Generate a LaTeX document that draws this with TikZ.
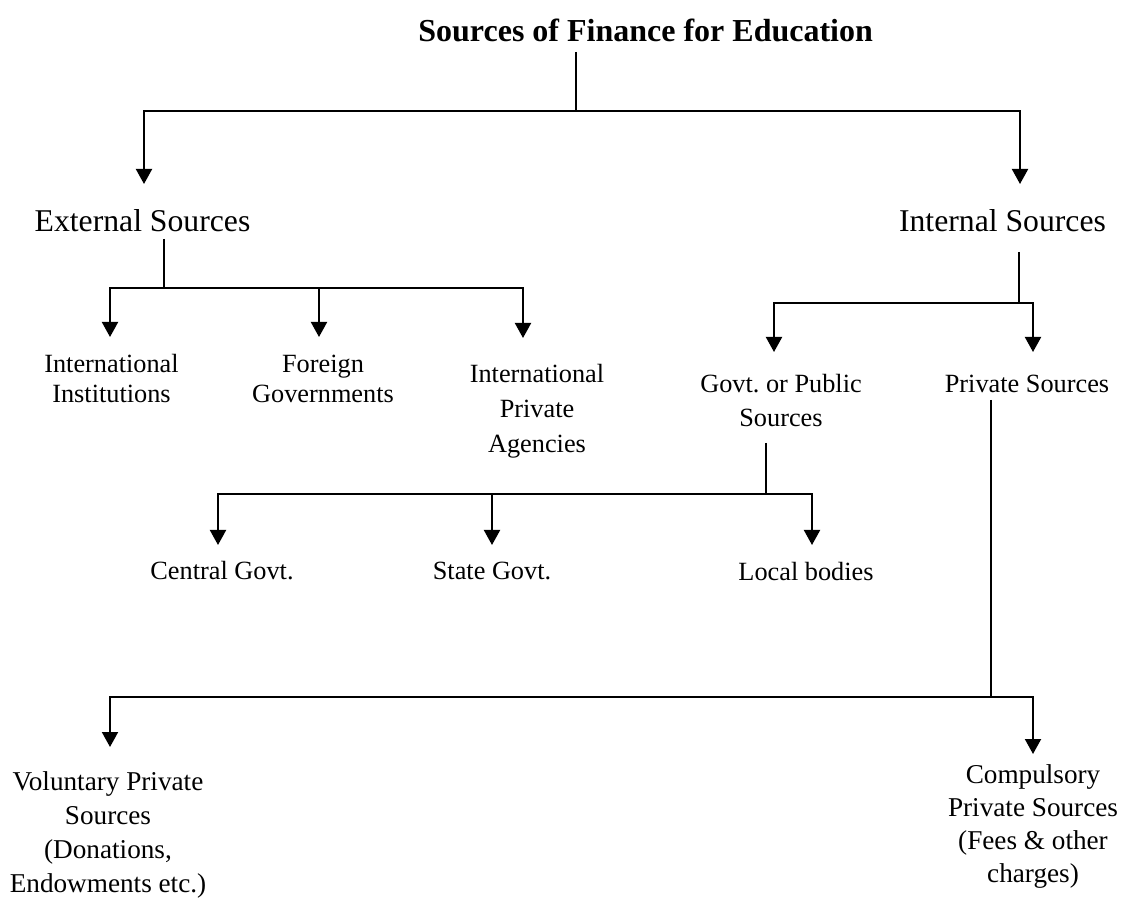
\documentclass[tikz,border=0pt]{standalone}
\usepackage{fontspec}
\setmainfont{Liberation Serif}
\usetikzlibrary{arrows.meta}
\frenchspacing
\begin{document}
\begin{tikzpicture}[x=0.5pt,y=-0.5pt,
  conn/.style={line width=1pt},
  arr/.style={line width=1pt,-{Triangle[width=8pt,length=7.5pt]}},
  titletext/.style={font=\bfseries\fontsize{16}{19}\selectfont,inner sep=0pt},
  bigtext/.style={font=\fontsize{15.85}{18}\selectfont,inner sep=0pt},
  smalltext/.style={font=\fontsize{13.15}{15}\selectfont,align=center,inner sep=0pt},
  bottomtext/.style={font=\fontsize{13.6}{16.75}\selectfont,align=center,inner sep=0pt}]
\useasboundingbox (0,0) rectangle (1125,898);

% nodes (anchor=base is the baseline of the last line)
\node[titletext,anchor=base west] (title) at (418,42) {Sources of Finance for Education};
\node[bigtext,anchor=base] (ext) at (142.5,232) {External Sources};
\node[bigtext,anchor=base] (int) at (1002.5,232) {Internal Sources};
\node[smalltext,anchor=base] (inst) at (111.5,403) {International\\Institutions};
\node[smalltext,anchor=base] (forg) at (323,403) {Foreign\\Governments};
\node[smalltext,anchor=base,font=\fontsize{13.15}{17.5}\selectfont] (ipa) at (537,453) {International\\Private\\Agencies};
\node[smalltext,anchor=base,font=\fontsize{13.15}{17}\selectfont] (govt) at (781,427) {Govt. or Public\\Sources};
\node[smalltext,anchor=base] (priv) at (1027,393) {Private Sources};
\node[smalltext,anchor=base] (central) at (222,580) {Central Govt.};
\node[smalltext,anchor=base] (state) at (492,580) {State Govt.};
\node[smalltext,anchor=base] (local) at (806,581) {Local bodies};
\node[bottomtext,anchor=base,font=\fontsize{13.6}{17}\selectfont] (vol) at (108,892) {Voluntary Private\\Sources\\(Donations,\\Endowments etc.)};
\node[bottomtext,anchor=base,font=\fontsize{13.6}{16.5}\selectfont] (comp) at (1033,882) {Compulsory\\Private Sources\\(Fees \& other\\charges)};

% junction coordinates
\coordinate (t0) at (576,52);   \coordinate (tJ) at (576,111);
\coordinate (extTip) at (144,184); \coordinate (intTip) at (1020,184);
\coordinate (e0) at (164,239);  \coordinate (eJ) at (164,288);
\coordinate (instTip) at (110,337); \coordinate (forgTip) at (319,337); \coordinate (ipaTip) at (523,338);
\coordinate (i0) at (1019,252); \coordinate (iJ) at (1019,303);
\coordinate (govtTip) at (774,352); \coordinate (privTip) at (1033,352);
\coordinate (g0) at (766,443);  \coordinate (gJ) at (766,494);
\coordinate (centralTip) at (218,545); \coordinate (stateTip) at (492,545); \coordinate (localTip) at (812,545);
\coordinate (p0) at (991,400);  \coordinate (pJ) at (991,697);
\coordinate (volTip) at (110,747); \coordinate (compTip) at (1033,754);

% connectors
\draw[conn] (t0) -- (tJ);
\draw[arr] (tJ) -| (extTip);
\draw[arr] (tJ) -| (intTip);

\draw[conn] (e0) -- (eJ);
\draw[arr] (eJ) -| (instTip);
\draw[arr] (eJ) -| (forgTip);
\draw[arr] (eJ) -| (ipaTip);

\draw[conn] (i0) -- (iJ);
\draw[arr] (iJ) -| (govtTip);
\draw[arr] (iJ) -| (privTip);

\draw[conn] (g0) -- (gJ);
\draw[arr] (gJ) -| (centralTip);
\draw[arr] (gJ) -| (stateTip);
\draw[arr] (gJ) -| (localTip);

\draw[conn] (p0) -- (pJ);
\draw[arr] (pJ) -| (volTip);
\draw[arr] (pJ) -| (compTip);
\end{tikzpicture}
\end{document}
